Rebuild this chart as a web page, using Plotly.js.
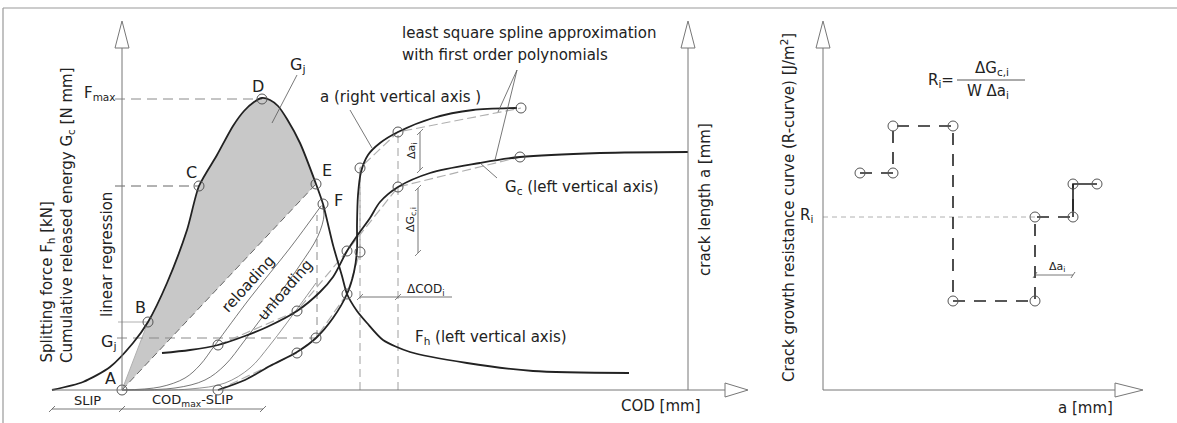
<!DOCTYPE html>
<html>
<head>
<meta charset="utf-8">
<script src="https://cdn.plot.ly/plotly-3.0.1.min.js"></script>
<style>
  html, body { margin: 0; padding: 0; background: #fff; }
  #chart { width: 1177px; height: 423px; }
</style>
</head>
<body>
<div id="chart"></div>
<script>
// ---- Left diagram: COD on x, force / energy on y (origin at point A) ----
// Splitting force F_h versus COD
const codF   = [-70, -39, -12, 11, 26, 45, 65, 77, 95, 111, 122, 132, 140, 148, 156, 165, 178, 194, 201, 211, 220, 225, 235, 245, 261, 288, 345, 411, 507];
const forceF = [0, 8, 23, 47, 68, 107, 160, 204, 235, 264, 279, 288, 292, 290, 284, 271, 247, 206, 186, 145, 114, 96, 79, 67, 50, 38, 27, 19, 17];

// Characteristic points on the force curve
const pointNames = ['A', 'B', 'C', 'D', 'E', 'F'];
const pointCOD   = [0, 26, 77, 140, 194, 201];
const pointForce = [0, 68, 204, 291, 206, 186];

// Crack length a versus COD (right vertical axis)
const codA   = [96, 123, 148, 175, 194, 211, 225, 232, 235, 235, 236, 239, 246, 258, 276, 311, 351, 395];
const crackA = [0, 10, 24, 38, 52, 72, 96, 118, 140, 165, 195, 218, 235, 247, 258, 272, 280, 282];
// knots of the piecewise linear fit of a
const knotCodA = [96, 175, 194, 225, 238, 238, 276, 399];
const knotA    = [0, 37, 52, 96, 138, 222, 258, 282];

// Cumulative released energy G_c versus COD (left vertical axis)
const codG  = [40, 68, 96, 123, 145, 175, 198, 211, 225, 235, 248, 258, 276, 308, 358, 398, 478, 566];
const gcG   = [37, 40, 45, 54, 63, 79, 98, 113, 139, 154, 172, 188, 203, 217, 227, 233, 237, 238];
// knots of the piecewise linear fit of G_c
const knotCodG = [96, 175, 225, 276, 398];
const knotG    = [45, 79, 139, 203, 233];

// Reloading / unloading branches between A and F
const reloadCOD = [0, 38, 63, 78, 93, 128, 168, 199];
const reloadF   = [0, 3, 12, 25, 45, 92, 142, 184];
const unloadCOD = [0, 53, 83, 103, 123, 158, 178, 196, 202, 200];
const unloadF   = [0, 2, 10, 25, 50, 97, 125, 154, 175, 185];
const branchCOD = [0, 68, 103, 128, 148, 178, 194];
const branchF   = [0, 1, 7, 22, 45, 85, 107];

// ---- Right diagram: R-curve versus crack length ----
const aStart = [37, 70, 130, 212, 250];
const aEnd   = [70, 130, 212, 250, 274];
const rValue = [217, 264, 89, 173, 206];
const rMarked = 3; // step whose value is labelled R_i

// ---- colours & styles ----
const INK = '#222';
const GREY = '#8a8a8a';
const LIGHT = '#b0b0b0';
const FONT = 'DejaVu Sans';

const traces = [];
function line(x, y, opt) {
  traces.push(Object.assign({
    type: 'scatter', mode: 'lines', x, y, hoverinfo: 'skip',
    xaxis: 'x', yaxis: 'y'
  }, opt));
}

// shaded area G_j: A -> B along a straight line, B -> E along the force curve, back to A
const iB = codF.indexOf(pointCOD[1]);
const iE = codF.indexOf(pointCOD[4]);
line([0].concat(codF.slice(iB, iE + 1), [0]),
     [0].concat(forceF.slice(iB, iE + 1), [0]),
     { fill: 'toself', fillcolor: '#c8c8c8', line: { width: 0 } });
line([pointCOD[0], pointCOD[1]], [pointForce[0], pointForce[1]], { line: { color: LIGHT, width: 1 } });
// linear regression A -> E
line([pointCOD[0], pointCOD[4]], [pointForce[0], pointForce[4]], { line: { color: '#666', width: 1, dash: '7px,4px' } });

// reference dashed lines
line([-7, pointCOD[3]], [pointForce[3], pointForce[3]], { line: { color: GREY, width: 1, dash: '10px,6px' } });
line([-7, pointCOD[2]], [pointForce[2], pointForce[2]], { line: { color: '#666', width: 1, dash: '10px,6px' } });
line([-4, pointCOD[1]], [pointForce[1], pointForce[1]], { line: { color: LIGHT, width: 1 } });
line([-5, knotCodA[2]], [knotA[2], knotA[2]], { line: { color: GREY, width: 1, dash: '10px,6px' } });
line([knotCodA[2] + 1, knotCodA[2] + 1], [knotA[2], 175], { line: { color: GREY, width: 1, dash: '8px,5px' } });
line([knotCodA[5], knotCodA[5]], [0, knotA[5]], { line: { color: LIGHT, width: 1.2, dash: '8px,5px' } });
line([knotCodA[6], knotCodA[6]], [0, knotA[6]], { line: { color: LIGHT, width: 1.2, dash: '8px,5px' } });

// reloading / unloading branches
line(reloadCOD, reloadF, { line: { color: '#555', width: 0.8, shape: 'spline' } });
line(unloadCOD, unloadF, { line: { color: '#555', width: 0.8, shape: 'spline' } });
line(branchCOD, branchF, { line: { color: '#777', width: 0.8, shape: 'spline' } });

// piecewise linear fits
line(knotCodA, knotA, { line: { color: LIGHT, width: 1.2, dash: '9px,4px' } });
line(knotCodG, knotG, { line: { color: LIGHT, width: 1.2, dash: '9px,4px' } });

// main curves
line(codF, forceF, { line: { color: INK, width: 1.8, shape: 'spline', smoothing: 0.7 } });
line(codA, crackA, { line: { color: INK, width: 1.8, shape: 'spline', smoothing: 0.8 } });
line(codG, gcG, { line: { color: INK, width: 1.8, shape: 'spline', smoothing: 0.9 } });

// circles
const ring = { symbol: 'circle-open', size: 10, color: '#555', line: { width: 1 } };
traces.push({ type: 'scatter', mode: 'markers', x: pointCOD, y: pointForce, marker: ring, hoverinfo: 'skip' });
traces.push({ type: 'scatter', mode: 'markers', x: knotCodA, y: knotA, marker: ring, hoverinfo: 'skip' });
traces.push({ type: 'scatter', mode: 'markers', x: knotCodG, y: knotG, marker: ring, hoverinfo: 'skip' });

// ---- R-curve steps ----
const stepX = [], stepY = [];
aStart.forEach((a, i) => { stepX.push(a, aEnd[i]); stepY.push(rValue[i], rValue[i]); });
traces.push({ type: 'scatter', mode: 'lines', x: [0, aStart[rMarked]], y: [rValue[rMarked], rValue[rMarked]],
  xaxis: 'x2', yaxis: 'y', line: { color: LIGHT, width: 1, dash: '5px,4px' }, hoverinfo: 'skip' });
traces.push({ type: 'scatter', mode: 'lines', x: stepX.slice(0, -1), y: stepY.slice(0, -1),
  xaxis: 'x2', yaxis: 'y', line: { color: INK, width: 1.6, dash: '12px,9px' }, hoverinfo: 'skip' });
traces.push({ type: 'scatter', mode: 'lines', x: stepX.slice(-3), y: stepY.slice(-3),
  xaxis: 'x2', yaxis: 'y', line: { color: INK, width: 1.6 }, hoverinfo: 'skip' });
traces.push({ type: 'scatter', mode: 'markers', x: stepX, y: stepY, xaxis: 'x2', yaxis: 'y',
  marker: ring, hoverinfo: 'skip' });

// ---- axes, arrows, leaders ----
const AX = '#777';
const shapes = [];
function seg(x0, y0, x1, y1, color, width, xref) {
  shapes.push({ type: 'line', xref: xref || 'x', yref: 'y', x0, y0, x1, y1,
    line: { color: color || AX, width: width || 1 } });
}
function arrowUp(x, xref) {
  shapes.push({ type: 'path', xref: xref || 'x', yref: 'y',
    path: `M${x - 7},342 L${x},369 L${x + 7},342 Z`, line: { color: AX, width: 1 }, fillcolor: '#fff' });
}
function arrowRight(x, tip, xref) {
  shapes.push({ type: 'path', xref: xref || 'x', yref: 'y',
    path: `M${x},7 L${tip},0 L${x},-7 Z`, line: { color: AX, width: 1 }, fillcolor: '#fff' });
}
// frame
seg(-119, 382, 1055, 382, '#999', 1.2);
seg(-119, 382, -119, -33, '#999', 1.2);
// left diagram axes
seg(0, 0, 0, 342); arrowUp(0);
seg(-70, 0, 603, 0); arrowRight(603, 626);
seg(566, 0, 566, 342); arrowUp(566);
// right diagram axes
seg(0, 0, 0, 342, AX, 1, 'x2'); arrowUp(0, 'x2');
seg(0, 0, 292, 0, AX, 1, 'x2'); arrowRight(292, 320, 'x2');

// dimension line SLIP / CODmax-SLIP
seg(-70, -19, 141, -19, '#555', 0.8);
[-70, 0, 141].forEach(x => seg(x - 3, -22, x + 3, -16, '#555', 0.8));
// ΔCOD_i
seg(238, 93, 330, 93, '#666', 0.9);
[238, 276].forEach(x => seg(x - 3, 90, x + 3, 96, '#666', 0.8));
// Δa_i and ΔG_c,i
seg(298, 258, 298, 220, '#666', 0.9);
[258, 220].forEach(y => seg(295, y - 3, 301, y + 3, '#666', 0.8));
seg(296, 202, 296, 137, '#666', 0.9);
[202, 137].forEach(y => seg(293, y - 3, 299, y + 3, '#666', 0.8));
// leaders
seg(175, 315, 150, 267, '#555', 0.8);
seg(228, 280, 250, 242, '#555', 0.8);
seg(395, 320, 376, 278, '#555', 0.8);
seg(395, 320, 373, 230, '#555', 0.8);
seg(375, 212, 358, 227, '#555', 0.8);
// Δa_i in the R-curve diagram
seg(212, 115, 250, 115, '#555', 0.8, 'x2');
[212, 250].forEach(x => seg(x - 2, 112, x + 2, 118, '#555', 0.8, 'x2'));
// fraction bar
seg(134, 310, 202, 310, '#444', 0.9, 'x2');

// ---- texts ----
const annotations = [];
function txt(text, x, y, opt) {
  annotations.push(Object.assign({ text, x, y, xref: 'x', yref: 'y', showarrow: false,
    font: { family: FONT, size: 15, color: INK } }, opt));
}
const small = (s) => ({ family: FONT, size: s, color: INK });

txt('F<sub>max</sub>', -4, 297, { xanchor: 'right' });
txt('G<sub>j</sub>', -3, 48, { xanchor: 'right', font: small(16) });
pointNames.forEach((n, i) => {
  const off = [[-12, 12], [-8, 15], [-8, 14], [-4, 13], [11, 14], [15, 4]][i];
  txt(n, pointCOD[i] + off[0], pointForce[i] + off[1], { font: small(16) });
});
txt('G<sub>j</sub>', 176, 325, { font: small(16) });
txt('linear regression', -15, 135, { textangle: -90 });
txt('reloading', 126, 106, { textangle: -48 });
txt('unloading', 163, 100, { textangle: -49 });
txt('a (right vertical axis )', 278, 293);
txt('least square spline approximation', 278, 357, { xanchor: 'left' });
txt('with first order polynomials', 278, 335, { xanchor: 'left' });
txt('G<sub>c</sub> (left vertical axis)', 381, 203, { xanchor: 'left' });
txt('F<sub>h</sub> (left vertical axis)', 291, 53, { xanchor: 'left' });
txt('Δa<sub>i</sub>', 290, 239, { textangle: -90, font: small(11) });
txt('ΔG<sub>c,i</sub>', 289, 170, { textangle: -90, font: small(11) });
txt('ΔCOD<sub>i</sub>', 304, 100, { font: small(12) });
txt('COD [mm]', 539, -16);
txt('crack length a [mm]', 583, 190, { textangle: -90 });
txt('SLIP', -35, -10, { font: small(13) });
txt('COD<sub>max</sub>-SLIP', 70, -10, { font: small(13) });
txt('Splitting force F<sub>h</sub> [kN]', -75, 25, { textangle: -90, yanchor: 'bottom' });
txt('Cumulative released energy G<sub>c</sub> [N mm]', -55, 25, { textangle: -90, yanchor: 'bottom' });

function txt2(text, x, y, opt) { txt(text, x, y, Object.assign({ xref: 'x2' }, opt)); }
txt2('Crack growth resistance curve (R-curve) [J/m<sup>2</sup>]', -35, 182, { textangle: -90 });
txt2('a [mm]', 262, -18);
txt2('R<sub>i</sub>', -8, 175, { xanchor: 'right' });
txt2('R<sub>i</sub>=', 133, 310, { xanchor: 'right' });
txt2('ΔG<sub>c,i</sub>', 169, 322);
txt2('W Δa<sub>i</sub>', 165, 299);
txt2('Δa<sub>i</sub>', 234, 123, { font: small(11) });

const layout = {
  width: 1177, height: 423,
  margin: { l: 0, r: 0, t: 0, b: 0 },
  paper_bgcolor: '#fff', plot_bgcolor: '#fff',
  showlegend: false,
  xaxis: { range: [-122, 1055], visible: false, fixedrange: true },
  xaxis2: { range: [-823, 354], visible: false, overlaying: 'x', anchor: 'y', fixedrange: true },
  yaxis: { range: [-33, 390], visible: false, fixedrange: true },
  shapes, annotations
};

Plotly.newPlot('chart', traces, layout, { staticPlot: true, displayModeBar: false });
</script>
</body>
</html>
